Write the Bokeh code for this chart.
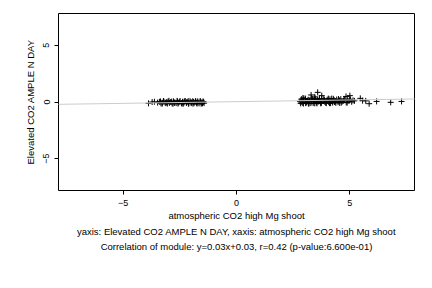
from bokeh.plotting import figure
from bokeh.models import Range1d, Slope, Title, FixedTicker
from bokeh.embed import file_html
from bokeh.resources import INLINE

# ---- data ----
x_left = [-3.88, -3.72, -3.62, -3.48, -3.40, -3.33, -3.27, -3.20, -3.14, -3.08, -3.02,
          -2.96, -2.90, -2.84, -2.78, -2.72, -2.66, -2.60, -2.55, -2.49, -2.43, -2.38,
          -2.32, -2.26, -2.21, -2.15, -2.10, -2.04, -1.98, -1.93, -1.87, -1.82, -1.76,
          -1.71, -1.65, -1.60, -1.54, -1.48, -1.43,
          -3.35, -3.22, -3.10, -2.98, -2.86, -2.74, -2.62, -2.50, -2.40, -2.30, -2.20,
          -2.10, -2.00, -1.90, -1.80, -1.70, -1.60, -1.50, -1.45,
          -3.28, -3.05, -2.80, -2.58, -2.35, -2.12, -1.92, -1.74, -1.56]
y_left = [-0.12, 0.00, 0.02, -0.05, 0.02, -0.12, -0.06, 0.03, -0.10, -0.04, 0.05,
          -0.08, 0.00, -0.12, 0.06, -0.03, -0.10, 0.04, -0.06, 0.08, -0.11, 0.02,
          -0.05, 0.09, -0.08, 0.03, -0.12, 0.05, -0.04, 0.07, -0.10, 0.01, -0.07,
          0.06, -0.12, 0.03, -0.05, 0.04, -0.10,
          0.05, 0.08, -0.02, 0.10, 0.03, -0.08, 0.10, 0.02, -0.13, 0.06, -0.02,
          0.08, -0.10, 0.00, 0.09, -0.04, 0.08, -0.12, 0.02,
          -0.15, -0.14, -0.15, -0.14, -0.15, -0.14, -0.15, -0.14, -0.15]

x_right = [2.80, 2.86, 2.92, 2.98, 3.04, 3.10, 3.16, 3.22, 3.28, 3.34, 3.40, 3.46,
           3.52, 3.58, 3.64, 3.70, 3.76, 3.82, 3.88, 3.94, 4.00, 4.06, 4.12, 4.18,
           4.24, 4.30, 4.36, 4.42, 4.48, 4.54, 4.60, 4.66, 4.72, 4.78, 4.84, 4.90,
           4.96, 5.02, 5.08, 5.14, 5.20,
           2.83, 2.90, 2.97, 3.05, 3.13, 3.20, 3.30, 3.38, 3.47, 3.55, 3.66, 3.74,
           3.85, 3.96, 4.05, 4.15, 4.27, 4.38, 4.50, 4.62, 4.75, 4.88, 5.00,
           2.85, 2.95, 3.07, 3.18, 3.32, 3.45, 3.60, 3.72, 3.90, 4.10, 4.32, 4.55,
           2.93, 3.29, 3.58, 3.76, 3.45, 4.20, 4.83, 5.00, 5.46, 5.56, 5.70, 5.85,
           6.18, 6.80, 7.28]
y_right = [0.05, 0.25, -0.08, 0.15, 0.30, -0.05, 0.20, 0.10, -0.10, 0.28, 0.05, 0.18,
           -0.06, 0.22, 0.12, -0.04, 0.26, 0.08, 0.16, -0.08, 0.20, 0.02, 0.24, 0.10,
           -0.05, 0.18, 0.06, 0.22, -0.02, 0.14, 0.25, 0.04, 0.12, 0.20, -0.04, 0.16,
           0.08, 0.22, 0.02, 0.14, 0.10,
           -0.12, 0.12, 0.32, -0.10, 0.10, -0.12, 0.35, -0.10, 0.32, -0.12, 0.30, -0.08,
           0.28, -0.10, 0.30, -0.10, 0.28, -0.08, 0.26, -0.06, 0.24, -0.06, 0.24,
           0.00, -0.14, 0.02, -0.14, 0.04, -0.12, 0.02, -0.12, 0.00, -0.10, 0.00, -0.08,
           0.35, 0.62, 0.85, 0.56, 0.45, 0.30, 0.49, 0.56, 0.32, 0.12, 0.10, -0.15,
           0.05, -0.03, 0.05]

slope = 0.03
intercept = 0.03
x_ticks = [-5, 0, 5]
y_ticks = [-5, 0, 5]

x_label = "atmospheric CO2 high Mg shoot"
y_label = "Elevated CO2 AMPLE N DAY"
line1 = "yaxis: Elevated CO2 AMPLE N DAY, xaxis: atmospheric CO2 high Mg shoot"
line2 = "Correlation of module: y=0.03x+0.03, r=0.42 (p-value:6.600e-01)"

FONT = "Liberation Sans"

p = figure(width=432, height=288, output_backend="svg", toolbar_location=None,
           x_range=Range1d(-7.85, 7.85), y_range=Range1d(-7.8, 7.8),
           min_border_left=58, min_border_right=18, min_border_top=13,
           min_border_bottom=98)
p.background_fill_color = "white"
p.border_fill_color = "white"
p.outline_line_color = "black"
p.outline_line_width = 1
p.grid.visible = False

for ax in (p.xaxis[0], p.yaxis[0]):
    ax.axis_line_color = None
    ax.major_tick_in = 0
    ax.major_tick_out = 4
    ax.minor_tick_line_color = None
    ax.major_tick_line_color = "black"
    ax.major_label_text_font = FONT
    ax.major_label_text_font_size = "9px"
    ax.major_label_text_color = "black"
    ax.axis_label_text_font = FONT
    ax.axis_label_text_font_size = "9.5px"
    ax.axis_label_text_font_style = "normal"
    ax.axis_label_text_color = "black"

p.xaxis.ticker = FixedTicker(ticks=x_ticks)
p.yaxis.ticker = FixedTicker(ticks=y_ticks)
p.xaxis.axis_label = x_label
p.yaxis.axis_label = y_label
p.yaxis.major_label_orientation = "vertical"
p.xaxis.major_label_standoff = 5
p.xaxis.axis_label_standoff = 1
p.yaxis.major_label_standoff = 5
p.yaxis.axis_label_standoff = 5

p.add_layout(Slope(gradient=slope, y_intercept=intercept, line_color="#cccccc", line_width=1))

p.scatter(x_left, y_left, marker="cross", size=6, line_color="black", line_width=1)
p.scatter(x_right, y_right, marker="cross", size=6, line_color="black", line_width=1)

for txt, so in ((line1, 1), (line2, 2)):
    t = Title(text=txt, align="center", text_font=FONT, text_font_size="9.5px",
              text_font_style="normal", text_color="black", standoff=so)
    p.add_layout(t, "below")

open("out.html", "w").write(file_html(p, INLINE))
